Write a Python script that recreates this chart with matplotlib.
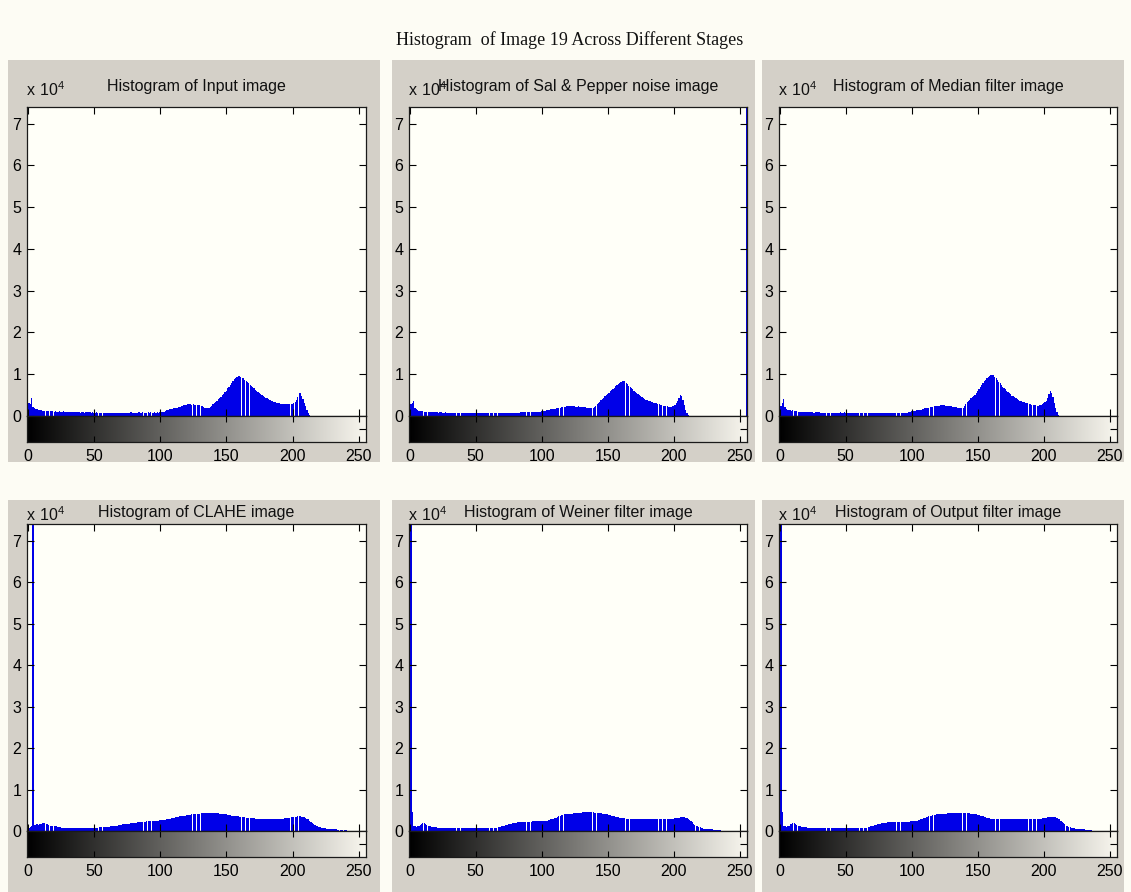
"""Histograms of image 19 at each processing stage (MATLAB imhist look)."""
import numpy as np
import matplotlib
matplotlib.use("Agg")
import matplotlib.pyplot as plt
from matplotlib.patches import Rectangle
from matplotlib.colors import LinearSegmentedColormap

# -------------------------------------------------------
# Data: counts per grey level 0..255, in units of 10^4.
# -------------------------------------------------------
h_input = [
    7.60, 0.30, 0.28, 0.42, 0.22, 0.18, 0.16, 0.17, 0.15, 0.14, 0.15, 0.13, 0.12, 0.13, 0.12, 0.12,
    0.11, 0.12, 0.11, 0.11, 0.10, 0.11, 0.10, 0.10, 0.11, 0.10, 0.10, 0.12, 0.10, 0.10, 0.09, 0.10,
    0.10, 0.09, 0.10, 0.09, 0.09, 0.10, 0.09, 0.09, 0.08, 0.09, 0.09, 0.08, 0.09, 0.10, 0.09, 0.09,
    0.08, 0.09, 0.08, 0.08, 0.09, 0.08, 0.08, 0.08, 0.08, 0.07, 0.08, 0.08, 0.08, 0.07, 0.08, 0.08,
    0.08, 0.08, 0.07, 0.08, 0.08, 0.08, 0.08, 0.08, 0.08, 0.08, 0.08, 0.08, 0.08, 0.08, 0.09, 0.08,
    0.08, 0.08, 0.08, 0.08, 0.09, 0.08, 0.08, 0.09, 0.08, 0.08, 0.08, 0.09, 0.08, 0.09, 0.08, 0.08,
    0.09, 0.08, 0.09, 0.08, 0.09, 0.09, 0.09, 0.10, 0.11, 0.14, 0.15, 0.16, 0.17, 0.17, 0.18, 0.19,
    0.19, 0.20, 0.21, 0.22, 0.24, 0.25, 0.26, 0.27, 0.27, 0.28, 0.28, 0.28, 0.27, 0.28, 0.27, 0.27,
    0.27, 0.26, 0.26, 0.25, 0.23, 0.21, 0.20, 0.19, 0.19, 0.20, 0.22, 0.25, 0.28, 0.31, 0.34, 0.37,
    0.40, 0.43, 0.46, 0.50, 0.53, 0.57, 0.61, 0.66, 0.70, 0.75, 0.80, 0.84, 0.88, 0.91, 0.93, 0.95,
    0.95, 0.94, 0.92, 0.90, 0.87, 0.84, 0.81, 0.78, 0.75, 0.72, 0.69, 0.66, 0.63, 0.60, 0.57, 0.55,
    0.52, 0.50, 0.48, 0.46, 0.44, 0.42, 0.40, 0.39, 0.37, 0.35, 0.34, 0.33, 0.32, 0.31, 0.30, 0.29,
    0.29, 0.28, 0.28, 0.28, 0.28, 0.28, 0.29, 0.28, 0.29, 0.30, 0.33, 0.38, 0.46, 0.55, 0.54, 0.48,
    0.40, 0.32, 0.24, 0.15, 0.06, 0.02, 0.00, 0.00, 0.00, 0.00, 0.00, 0.00, 0.00, 0.00, 0.00, 0.00,
] + [0.0] * 32

h_noise = [
    7.60, 0.28, 0.30, 0.36, 0.20, 0.16, 0.15, 0.13, 0.12, 0.12, 0.11, 0.10, 0.10, 0.10, 0.09, 0.10,
    0.09, 0.09, 0.10, 0.09, 0.09, 0.09, 0.08, 0.09, 0.09, 0.08, 0.08, 0.09, 0.08, 0.08, 0.08, 0.08,
    0.08, 0.08, 0.08, 0.07, 0.08, 0.08, 0.08, 0.07, 0.08, 0.07, 0.07, 0.08, 0.07, 0.07, 0.07, 0.07,
    0.07, 0.07, 0.07, 0.07, 0.07, 0.07, 0.07, 0.07, 0.07, 0.07, 0.07, 0.07, 0.07, 0.07, 0.07, 0.07,
    0.07, 0.07, 0.07, 0.07, 0.07, 0.07, 0.07, 0.07, 0.07, 0.07, 0.07, 0.07, 0.07, 0.07, 0.07, 0.07,
    0.07, 0.07, 0.08, 0.08, 0.09, 0.09, 0.09, 0.09, 0.09, 0.09, 0.09, 0.09, 0.09, 0.09, 0.09, 0.09,
    0.09, 0.10, 0.10, 0.10, 0.11, 0.12, 0.12, 0.13, 0.14, 0.14, 0.15, 0.16, 0.16, 0.17, 0.17, 0.18,
    0.18, 0.19, 0.20, 0.21, 0.21, 0.22, 0.22, 0.23, 0.23, 0.23, 0.23, 0.23, 0.23, 0.23, 0.22, 0.22,
    0.23, 0.22, 0.22, 0.22, 0.21, 0.21, 0.20, 0.20, 0.20, 0.20, 0.20, 0.20, 0.22, 0.25, 0.28, 0.31,
    0.34, 0.38, 0.41, 0.44, 0.47, 0.50, 0.53, 0.56, 0.59, 0.62, 0.65, 0.68, 0.71, 0.74, 0.77, 0.79,
    0.81, 0.83, 0.84, 0.83, 0.80, 0.76, 0.73, 0.70, 0.67, 0.64, 0.61, 0.58, 0.55, 0.52, 0.50, 0.47,
    0.45, 0.43, 0.41, 0.39, 0.38, 0.36, 0.35, 0.34, 0.33, 0.32, 0.31, 0.30, 0.29, 0.28, 0.27, 0.26,
    0.25, 0.24, 0.23, 0.23, 0.22, 0.22, 0.22, 0.23, 0.24, 0.26, 0.30, 0.36, 0.44, 0.50, 0.47, 0.38,
    0.26, 0.14, 0.06, 0.02, 0.00, 0.00, 0.00, 0.00, 0.00, 0.00, 0.00, 0.00, 0.00, 0.00, 0.00, 0.00,
] + [0.0] * 31 + [7.60]

h_median = [
    7.60, 0.25, 0.30, 0.40, 0.22, 0.16, 0.15, 0.14, 0.15, 0.13, 0.14, 0.12, 0.12, 0.11, 0.10, 0.10,
    0.10, 0.10, 0.09, 0.10, 0.09, 0.09, 0.10, 0.09, 0.09, 0.09, 0.08, 0.09, 0.09, 0.10, 0.09, 0.08,
    0.08, 0.08, 0.08, 0.08, 0.08, 0.08, 0.08, 0.08, 0.08, 0.07, 0.08, 0.07, 0.08, 0.08, 0.09, 0.08,
    0.08, 0.09, 0.08, 0.07, 0.07, 0.08, 0.07, 0.07, 0.07, 0.07, 0.07, 0.07, 0.07, 0.07, 0.07, 0.07,
    0.07, 0.07, 0.07, 0.07, 0.07, 0.07, 0.07, 0.07, 0.07, 0.07, 0.07, 0.08, 0.08, 0.08, 0.08, 0.08,
    0.08, 0.08, 0.08, 0.08, 0.08, 0.08, 0.08, 0.08, 0.08, 0.08, 0.08, 0.08, 0.08, 0.08, 0.08, 0.08,
    0.08, 0.08, 0.09, 0.10, 0.11, 0.12, 0.13, 0.13, 0.14, 0.14, 0.15, 0.15, 0.16, 0.17, 0.18, 0.19,
    0.20, 0.20, 0.21, 0.22, 0.22, 0.23, 0.24, 0.24, 0.25, 0.25, 0.26, 0.27, 0.27, 0.26, 0.25, 0.25,
    0.24, 0.24, 0.23, 0.22, 0.22, 0.21, 0.21, 0.20, 0.20, 0.20, 0.19, 0.20, 0.24, 0.29, 0.33, 0.36,
    0.39, 0.42, 0.45, 0.48, 0.51, 0.55, 0.59, 0.64, 0.69, 0.74, 0.79, 0.83, 0.87, 0.90, 0.93, 0.96,
    0.98, 0.99, 0.97, 0.94, 0.90, 0.86, 0.82, 0.78, 0.74, 0.70, 0.67, 0.64, 0.61, 0.58, 0.55, 0.52,
    0.49, 0.47, 0.45, 0.43, 0.41, 0.39, 0.37, 0.35, 0.34, 0.33, 0.32, 0.31, 0.30, 0.29, 0.28, 0.27,
    0.27, 0.26, 0.26, 0.25, 0.25, 0.26, 0.27, 0.29, 0.31, 0.33, 0.37, 0.43, 0.52, 0.60, 0.55, 0.45,
    0.32, 0.20, 0.10, 0.03, 0.00, 0.00, 0.00, 0.00, 0.00, 0.00, 0.00, 0.00, 0.00, 0.00, 0.00, 0.00,
] + [0.0] * 32

h_clahe = [
    0.00, 0.08, 0.10, 0.12, 7.60, 0.15, 0.14, 0.16, 0.15, 0.17, 0.18, 0.19, 0.20, 0.19, 0.18, 0.16,
    0.15, 0.13, 0.12, 0.12, 0.11, 0.11, 0.11, 0.10, 0.10, 0.09, 0.08, 0.08, 0.08, 0.08, 0.08, 0.08,
    0.08, 0.08, 0.08, 0.08, 0.08, 0.08, 0.08, 0.08, 0.08, 0.08, 0.08, 0.08, 0.08, 0.08, 0.08, 0.08,
    0.08, 0.08, 0.08, 0.08, 0.08, 0.08, 0.09, 0.09, 0.09, 0.10, 0.10, 0.10, 0.10, 0.10, 0.10, 0.11,
    0.11, 0.11, 0.12, 0.12, 0.13, 0.14, 0.15, 0.15, 0.16, 0.16, 0.17, 0.17, 0.18, 0.18, 0.19, 0.19,
    0.20, 0.20, 0.20, 0.21, 0.21, 0.21, 0.22, 0.22, 0.22, 0.22, 0.23, 0.23, 0.23, 0.23, 0.24, 0.24,
    0.25, 0.25, 0.25, 0.25, 0.26, 0.26, 0.26, 0.27, 0.27, 0.28, 0.28, 0.29, 0.30, 0.31, 0.32, 0.32,
    0.33, 0.34, 0.34, 0.35, 0.36, 0.36, 0.37, 0.37, 0.38, 0.38, 0.39, 0.39, 0.40, 0.40, 0.41, 0.41,
    0.42, 0.42, 0.42, 0.43, 0.43, 0.43, 0.44, 0.44, 0.44, 0.44, 0.44, 0.44, 0.44, 0.44, 0.43, 0.43,
    0.43, 0.42, 0.42, 0.41, 0.41, 0.40, 0.40, 0.39, 0.38, 0.38, 0.37, 0.37, 0.36, 0.36, 0.35, 0.35,
    0.34, 0.34, 0.33, 0.33, 0.33, 0.32, 0.32, 0.32, 0.31, 0.31, 0.31, 0.31, 0.30, 0.30, 0.30, 0.30,
    0.30, 0.30, 0.30, 0.30, 0.29, 0.29, 0.30, 0.30, 0.29, 0.29, 0.30, 0.29, 0.29, 0.30, 0.30, 0.30,
    0.30, 0.30, 0.31, 0.31, 0.31, 0.32, 0.32, 0.33, 0.33, 0.34, 0.34, 0.34, 0.35, 0.35, 0.35, 0.34,
    0.34, 0.33, 0.32, 0.30, 0.28, 0.25, 0.22, 0.19, 0.16, 0.14, 0.12, 0.11, 0.10, 0.09, 0.08, 0.08,
    0.07, 0.07, 0.06, 0.06, 0.05, 0.05, 0.05, 0.04, 0.04, 0.04, 0.03, 0.03, 0.03, 0.03, 0.02, 0.02,
    0.02, 0.02, 0.01, 0.01, 0.01, 0.01, 0.00, 0.00, 0.00, 0.00, 0.00, 0.00, 0.00, 0.00, 0.00, 0.00,
]

h_wiener = [
    0.10, 7.60, 0.45, 0.12, 0.11, 0.10, 0.11, 0.12, 0.15, 0.18, 0.20, 0.19, 0.17, 0.15, 0.13, 0.12,
    0.11, 0.10, 0.10, 0.09, 0.09, 0.08, 0.08, 0.08, 0.08, 0.08, 0.07, 0.07, 0.07, 0.07, 0.07, 0.07,
    0.07, 0.07, 0.07, 0.07, 0.07, 0.07, 0.07, 0.07, 0.07, 0.07, 0.07, 0.07, 0.07, 0.07, 0.07, 0.07,
    0.07, 0.07, 0.07, 0.07, 0.07, 0.07, 0.07, 0.07, 0.07, 0.07, 0.08, 0.08, 0.08, 0.08, 0.08, 0.08,
    0.08, 0.08, 0.08, 0.09, 0.09, 0.10, 0.11, 0.12, 0.13, 0.14, 0.15, 0.16, 0.17, 0.18, 0.19, 0.19,
    0.20, 0.20, 0.21, 0.21, 0.21, 0.21, 0.22, 0.22, 0.22, 0.22, 0.22, 0.22, 0.22, 0.23, 0.23, 0.23,
    0.23, 0.23, 0.23, 0.24, 0.24, 0.24, 0.24, 0.25, 0.25, 0.26, 0.27, 0.28, 0.29, 0.30, 0.31, 0.32,
    0.34, 0.35, 0.37, 0.38, 0.39, 0.40, 0.40, 0.41, 0.41, 0.42, 0.42, 0.42, 0.43, 0.43, 0.43, 0.44,
    0.44, 0.44, 0.44, 0.45, 0.45, 0.45, 0.45, 0.45, 0.45, 0.45, 0.45, 0.45, 0.44, 0.44, 0.44, 0.44,
    0.43, 0.43, 0.42, 0.42, 0.41, 0.40, 0.40, 0.39, 0.38, 0.37, 0.36, 0.35, 0.34, 0.33, 0.33, 0.32,
    0.32, 0.31, 0.31, 0.31, 0.30, 0.30, 0.30, 0.30, 0.29, 0.29, 0.29, 0.29, 0.29, 0.29, 0.29, 0.28,
    0.28, 0.28, 0.28, 0.28, 0.28, 0.28, 0.28, 0.28, 0.28, 0.28, 0.28, 0.28, 0.28, 0.28, 0.28, 0.28,
    0.28, 0.28, 0.28, 0.28, 0.28, 0.28, 0.29, 0.29, 0.30, 0.31, 0.31, 0.32, 0.32, 0.33, 0.33, 0.33,
    0.33, 0.32, 0.31, 0.29, 0.27, 0.24, 0.21, 0.18, 0.15, 0.13, 0.11, 0.10, 0.09, 0.08, 0.07, 0.06,
    0.06, 0.05, 0.05, 0.04, 0.04, 0.04, 0.03, 0.03, 0.03, 0.02, 0.02, 0.02, 0.01, 0.01, 0.01, 0.00,
] + [0.0] * 16

h_output = [
    0.10, 7.60, 0.46, 0.12, 0.11, 0.10, 0.11, 0.13, 0.16, 0.18, 0.20, 0.19, 0.17, 0.15, 0.13, 0.12,
    0.11, 0.10, 0.10, 0.09, 0.09, 0.08, 0.08, 0.08, 0.08, 0.07, 0.07, 0.07, 0.07, 0.07, 0.07, 0.07,
    0.07, 0.07, 0.07, 0.07, 0.07, 0.07, 0.07, 0.07, 0.07, 0.07, 0.07, 0.07, 0.07, 0.07, 0.07, 0.07,
    0.07, 0.07, 0.07, 0.07, 0.07, 0.07, 0.07, 0.07, 0.07, 0.07, 0.07, 0.07, 0.08, 0.08, 0.08, 0.08,
    0.08, 0.08, 0.08, 0.09, 0.10, 0.11, 0.12, 0.13, 0.14, 0.15, 0.16, 0.17, 0.18, 0.19, 0.19, 0.20,
    0.20, 0.20, 0.21, 0.21, 0.21, 0.21, 0.21, 0.22, 0.22, 0.22, 0.22, 0.22, 0.22, 0.22, 0.22, 0.22,
    0.22, 0.22, 0.22, 0.23, 0.23, 0.23, 0.24, 0.24, 0.25, 0.26, 0.27, 0.28, 0.29, 0.31, 0.32, 0.33,
    0.34, 0.35, 0.36, 0.37, 0.38, 0.39, 0.39, 0.40, 0.40, 0.41, 0.41, 0.41, 0.42, 0.42, 0.42, 0.43,
    0.43, 0.43, 0.43, 0.44, 0.44, 0.44, 0.44, 0.44, 0.44, 0.44, 0.44, 0.44, 0.44, 0.44, 0.43, 0.43,
    0.43, 0.42, 0.42, 0.42, 0.41, 0.40, 0.39, 0.38, 0.37, 0.36, 0.35, 0.34, 0.33, 0.32, 0.31, 0.31,
    0.30, 0.30, 0.30, 0.29, 0.29, 0.29, 0.29, 0.29, 0.28, 0.28, 0.28, 0.28, 0.28, 0.28, 0.28, 0.28,
    0.28, 0.28, 0.28, 0.28, 0.28, 0.28, 0.28, 0.28, 0.28, 0.28, 0.28, 0.28, 0.28, 0.28, 0.28, 0.28,
    0.28, 0.28, 0.28, 0.28, 0.28, 0.29, 0.30, 0.31, 0.31, 0.32, 0.32, 0.33, 0.33, 0.34, 0.34, 0.34,
    0.34, 0.33, 0.32, 0.30, 0.28, 0.25, 0.22, 0.19, 0.16, 0.13, 0.11, 0.10, 0.09, 0.08, 0.07, 0.07,
    0.06, 0.06, 0.05, 0.05, 0.05, 0.04, 0.04, 0.04, 0.03, 0.03, 0.03, 0.02, 0.02, 0.01, 0.01, 0.00,
] + [0.0] * 16

titles = [
    "Histogram of Input image",
    "Histogram of Sal & Pepper noise image",
    "Histogram of Median filter image",
    "Histogram of CLAHE image",
    "Histogram of Weiner filter image",
    "Histogram of Output filter image",
]
hists = [h_input, h_noise, h_median, h_clahe, h_wiener, h_output]
suptitle = "Histogram  of Image 19 Across Different Stages"
xticks = [0, 50, 100, 150, 200, 250]
yticks = [0, 1, 2, 3, 4, 5, 6, 7]

# -------------------------------------------------------
# Figure layout (pixel positions measured on the screenshot).
# -------------------------------------------------------
W, H = 1131, 892
BG = "#fdfcf4"
PANEL = "#d4d0c8"
AXBG = "#fffff8"
BLUE = "#0000e8"
SANS = ["Liberation Sans", "DejaVu Sans"]

plt.rcParams["mathtext.fontset"] = "custom"
plt.rcParams["mathtext.rm"] = "Liberation Sans"

fig = plt.figure(figsize=(W / 100, H / 100), dpi=100, facecolor=BG)

cols = [(27, 366), (409, 747), (779, 1117)]
panel_x = [(8, 380), (392, 755), (762, 1124)]
# per row: panel top/bottom, title y, axes top, zero line, gradient bottom
rows = [
    dict(ptop=60, pbot=462, ty=87, atop=107, zero=416, gbot=442),
    dict(ptop=500, pbot=892, ty=512, atop=524, zero=831, gbot=857),
]

def px_axes(x0, x1, ytop, ybot):
    a = fig.add_axes([x0 / W, 1 - ybot / H, (x1 - x0) / W, (ybot - ytop) / H])
    a.set_zorder(2)
    return a

grey_cmap = LinearSegmentedColormap.from_list("imhist", ["#000000", "#f8f6ee"])
ramp = np.linspace(0, 1, 256)[None, :]

for i, (counts, title) in enumerate(zip(hists, titles)):
    r = rows[i // 3]
    x0, x1 = cols[i % 3]
    px0, px1 = panel_x[i % 3]

    fig.patches.append(Rectangle(
        (px0 / W, 1 - r["pbot"] / H), (px1 - px0) / W, (r["pbot"] - r["ptop"]) / H,
        transform=fig.transFigure, facecolor=PANEL, edgecolor="none", zorder=-5,
    ))

    # histogram axes
    ax = px_axes(x0, x1, r["atop"], r["zero"])
    ax.set_facecolor(AXBG)
    ax.bar(np.arange(256), np.array(counts) * 1e4, width=0.94,
           color=BLUE, linewidth=0, antialiased=False)
    ax.set_xlim(-0.5, 255.5)
    ax.set_ylim(0, 7.4e4)
    ax.set_xticks(xticks)
    ax.set_yticks([v * 1e4 for v in yticks])
    ax.set_yticklabels([str(v) for v in yticks], family=SANS, fontsize=11.5)
    ax.tick_params(axis="x", direction="in", top=True, bottom=True,
                   labelbottom=False, length=5, width=0.8)
    ax.tick_params(axis="y", direction="in", left=True, right=True,
                   length=5, width=0.8, pad=4)
    for sp in ax.spines.values():
        sp.set_linewidth(0.9)
        sp.set_color("#1a1a1a")

    # grey-level ramp under the histogram
    gx = px_axes(x0, x1, r["zero"], r["gbot"])
    gx.imshow(ramp, cmap=grey_cmap, aspect="auto",
              extent=(-0.5, 255.5, 0, 1), interpolation="bilinear")
    gx.set_xlim(-0.5, 255.5)
    gx.set_ylim(0, 1)
    gx.set_xticks(xticks)
    gx.set_xticklabels([str(v) for v in xticks], family=SANS, fontsize=11.5)
    gx.set_yticks([0.5])
    gx.set_yticklabels([])
    gx.tick_params(axis="x", direction="in", top=True, bottom=True,
                   length=4, width=0.8, pad=5)
    gx.tick_params(axis="y", direction="in", left=False, right=True,
                   length=5, width=0.8)
    for sp in gx.spines.values():
        sp.set_linewidth(0.9)
        sp.set_color("#1a1a1a")

    # titles and the x 10^4 multiplier
    fig.text((x0 + x1) / 2 / W, 1 - r["ty"] / H, title, family=SANS,
             fontsize=11.5, ha="center", va="center", color="#111111", zorder=3)
    fig.text((x0 - 1) / W, 1 - (r["ty"] + 3) / H, r"$\mathrm{x\ 10^4}$",
             fontsize=11.5, ha="left", va="center", color="#111111", zorder=3)

fig.text(570 / W, 1 - 40 / H, suptitle, family=["Liberation Serif", "DejaVu Serif"],
         fontsize=13, ha="center", va="center", color="#111111")

fig.savefig("out.png", dpi=100, facecolor=BG)
